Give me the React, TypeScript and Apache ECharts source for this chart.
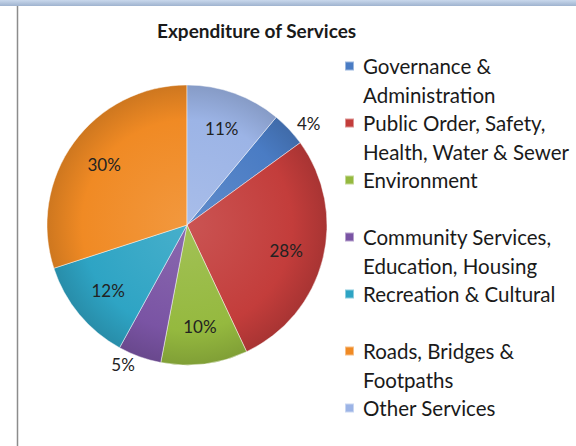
import React, { useEffect, useRef } from "react";
import * as echarts from "echarts";

const titleText = "Expenditure of Services";
const categories = [
  "Governance & Administration",
  "Public Order, Safety, Health, Water & Sewer",
  "Environment",
  "Community Services, Education, Housing",
  "Recreation & Cultural",
  "Roads, Bridges & Footpaths",
  "Other Services",
];
const legendLines = [
  ["Governance &", "Administration"],
  ["Public Order, Safety,", "Health, Water & Sewer"],
  ["Environment"],
  ["Community Services,", "Education, Housing"],
  ["Recreation & Cultural"],
  ["Roads, Bridges &", "Footpaths"],
  ["Other Services"],
];
const values = [4, 28, 10, 5, 12, 30, 11];
const colors = ["#4a7cc4", "#c33d3b", "#95b93f", "#7a54a4", "#2ea4c4", "#f08a24", "#9cb4e6"];
const labelOutside = [true, false, false, true, false, false, false];

function mix(hex: string, target: number, t: number): string {
  const n = parseInt(hex.slice(1), 16);
  const r = (n >> 16) & 255, g = (n >> 8) & 255, b = n & 255;
  const f = (c: number) => Math.round(c + (target - c) * t);
  return `rgb(${f(r)},${f(g)},${f(b)})`;
}

export default function App() {
  const ref = useRef<HTMLDivElement>(null);
  useEffect(() => {
    if (!ref.current) return;
    const chart = echarts.init(ref.current, undefined, { renderer: "svg" });
    const cx = 187, cy = 225, R = 140;
    const firstValueShare = values[values.length - 1] / values.reduce((a, b) => a + b, 0);
    const startAngle = 90 - firstValueShare * 360;
    const font = "Lato, 'Noto Sans', sans-serif";
    const lineH = 28.5;

    const pieData = categories.map((name, i) => ({
      name,
      value: values[i],
      itemStyle: {
        color: {
          type: "radial",
          x: cx,
          y: cy,
          r: R,
          global: true,
          colorStops: [
            { offset: 0, color: mix(colors[i], 255, 0.12) },
            { offset: 0.75, color: colors[i] },
            { offset: 1, color: mix(colors[i], 0, 0.14) },
          ],
        },
      },
    }));

    const labelData = categories.map((name, i) => ({
      name,
      value: values[i],
      label: labelOutside[i]
        ? { position: "outside" as const, distanceToLabelLine: 2 }
        : { position: "inside" as const },
      labelLine: { show: false, length: 8, length2: 0 },
    }));

    chart.setOption({
      animation: false,
      backgroundColor: "#ffffff",
      title: {
        text: titleText,
        left: 157,
        top: 21,
        padding: 0,
        textStyle: { fontFamily: font, fontSize: 19, fontWeight: "bold", color: "#1a1a1a" },
      },
      legend: {
        orient: "vertical",
        left: 344,
        top: 66 - lineH * 1.5,
        height: 600,
        padding: 0,
        itemWidth: 9,
        itemHeight: 9,
        itemGap: -lineH,
        icon: "rect",
        selectedMode: false,
        data: categories.map((name, i) => ({ name, itemStyle: { color: colors[i] } })),
        formatter: (name: string) => {
          const lines = legendLines[categories.indexOf(name)];
          const l2 = lines.length > 1 ? lines[1] : "\u00a0";
          return "\u00a0\n" + lines[0] + "\n" + l2;
        },
        textStyle: {
          fontFamily: font,
          fontSize: 20.5,
          color: "#1a1a1a",
          lineHeight: lineH,
          padding: [0, 0, 0, 4],
        },
      },
      graphic: [
        {
          type: "rect",
          shape: { x: 0, y: 0, width: 576, height: 6 },
          style: {
            fill: {
              type: "linear", x: 0, y: 0, x2: 0, y2: 1,
              colorStops: [
                { offset: 0, color: "#c9d8ec" },
                { offset: 1, color: "#9fb3cf" },
              ],
            },
          },
          silent: true,
        },
        {
          type: "line",
          shape: { x1: 17.5, y1: 6, x2: 17.5, y2: 446 },
          style: { stroke: "#8c8c8c", lineWidth: 1.5 },
          silent: true,
        },
      ],
      series: [
        {
          type: "pie",
          center: [cx, cy],
          radius: [0, R],
          startAngle,
          clockwise: true,
          silent: true,
          label: { show: false },
          labelLine: { show: false },
          itemStyle: { borderColor: "rgba(255,255,255,0.45)", borderWidth: 1 },
          emphasis: { disabled: true },
          data: pieData,
        },
        {
          type: "pie",
          center: [cx, cy],
          radius: [R * 0.42, R],
          startAngle,
          clockwise: true,
          silent: true,
          itemStyle: { color: "rgba(0,0,0,0)", borderWidth: 0 },
          emphasis: { disabled: true },
          label: {
            show: true,
            formatter: "{c}%",
            fontFamily: font,
            fontSize: 17,
            color: "#222222",
          },
          data: labelData,
        },
      ],
    });
    return () => chart.dispose();
  }, []);
  return (
    <div
      ref={ref}
      style={{ position: "absolute", left: 0, top: 0, width: 576, height: 446 }}
    />
  );
}
